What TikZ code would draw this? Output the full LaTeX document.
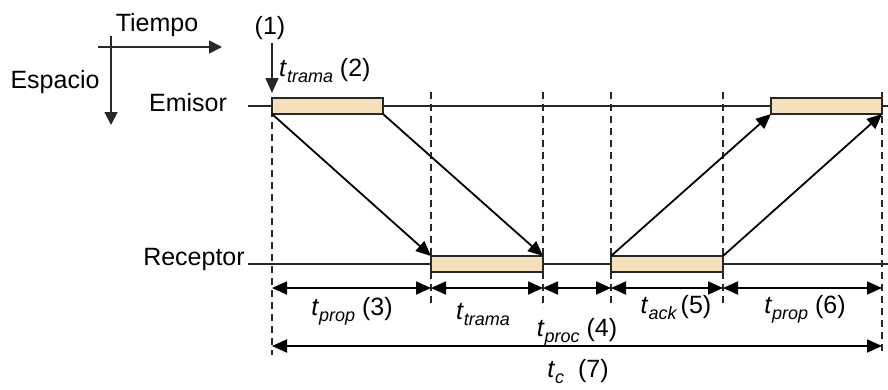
\documentclass[tikz,border=0pt]{standalone}
\usepackage{fontspec}
\setmainfont{Liberation Sans}
\usetikzlibrary{arrows.meta}
\definecolor{framefill}{RGB}{245,224,188}
\definecolor{linegray}{RGB}{40,40,40}
\newcommand\tvar[1]{\textit{t}\raisebox{-6pt}{\fontsize{18}{18}\selectfont\itshape #1}}
\begin{document}
\begin{tikzpicture}[x=1pt,y=-1pt,
  lbl/.style={font=\fontsize{25}{28}\selectfont, inner sep=0pt, anchor=base},
  tl/.style={draw=linegray, line width=1.6pt},
  vdash/.style={draw=linegray, line width=1.6pt, dash pattern=on 7pt off 5pt},
  frm/.style={draw=linegray, fill=framefill, line width=2pt, minimum height=16pt, inner sep=0pt, outer sep=0pt},
  sig/.style={draw=black, line width=1.8pt, -{Triangle[length=15pt,width=13pt]}},
  dim/.style={draw=black, line width=1.8pt, {Triangle[length=15pt,width=13pt]}-{Triangle[length=15pt,width=13pt]}},
  ax/.style={draw=linegray, line width=1.8pt, -{Triangle[length=13pt,width=13pt]}}
]
\useasboundingbox (0,0) rectangle (888,389);

% axes
\coordinate (hx0) at (98,47); \coordinate (hx1) at (222,47);
\coordinate (vy0) at (111,36); \coordinate (vy1) at (111,125);
\draw[ax] (hx0) -- (hx1);
\draw[ax] (vy0) -- (vy1);
\node[lbl] (tiempo) at (157,31) {Tiempo};
\node[lbl] (espacio) at (55,88) {Espacio};

% dashed verticals
\coordinate (d1t) at (272,98);  \coordinate (d1b) at (272,355);
\coordinate (d2t) at (431,92);  \coordinate (d2b) at (431,303);
\coordinate (d3t) at (543,92);  \coordinate (d3b) at (543,308);
\coordinate (d4t) at (611,92);  \coordinate (d4b) at (611,305);
\coordinate (d5t) at (723,92);  \coordinate (d5b) at (723,303);
\coordinate (d6t) at (882,92);  \coordinate (d6b) at (882,355);
\foreach \i in {1,...,6} {\draw[vdash] (d\i t) -- (d\i b);}

% time lines
\coordinate (el0) at (248,106); \coordinate (el1) at (888,106);
\coordinate (rl0) at (248,264); \coordinate (rl1) at (888,264);
\draw[tl] (el0) -- (el1);
\draw[tl] (rl0) -- (rl1);
\node[lbl] (emisor) at (188,111) {Emisor};
\node[lbl] (receptor) at (194,265) {Receptor};

% frames
\node[frm, minimum width=111pt] (e1) at (327.5,106) {};
\node[frm, minimum width=112pt] (r1) at (487,264) {};
\node[frm, minimum width=112pt] (r2) at (667,264) {};
\node[frm, minimum width=111pt] (e2) at (826.5,106) {};

% signals
\draw[sig] (e1.south west) -- (r1.north west);
\draw[sig] (e1.south east) -- (r1.north east);
\draw[sig] (r2.north west) -- (e2.south west);
\draw[sig] (r2.north east) -- (e2.south east);

% start marker
\coordinate (s0) at (272,43); \coordinate (s1) at (272,93);
\draw[sig, draw=linegray] (s0) -- (s1);
\node[lbl] (one) at (270,34) {(1)};
\node[lbl, anchor=base west] (ttr2) at (279,76) {\tvar{trama} (2)};

% dimension arrows
\coordinate (m1) at (272,288); \coordinate (m2) at (431,288);
\coordinate (m3) at (543,288); \coordinate (m4) at (611,288);
\coordinate (m5) at (723,288); \coordinate (m6) at (882,288);
\draw[dim] (m1) -- (m2);
\draw[dim] (m2) -- (m3);
\draw[dim] (m3) -- (m4);
\draw[dim] (m4) -- (m5);
\draw[dim] (m5) -- (m6);
\coordinate (c0) at (272,346); \coordinate (c1) at (882,346);
\draw[dim] (c0) -- (c1);

\node[lbl] (l3) at (352,315) {\tvar{prop} (3)};
\node[lbl] (ltr) at (483,319) {\tvar{trama}};
\node[lbl] (l4) at (577,336) {\tvar{proc} (4)};
\node[lbl] (l5) at (676,313) {\tvar{ack}\,(5)};
\node[lbl] (l6) at (805,313) {\tvar{prop} (6)};
\node[lbl] (l7) at (578,377) {\tvar{c}\ \ (7)};
\end{tikzpicture}
\end{document}
